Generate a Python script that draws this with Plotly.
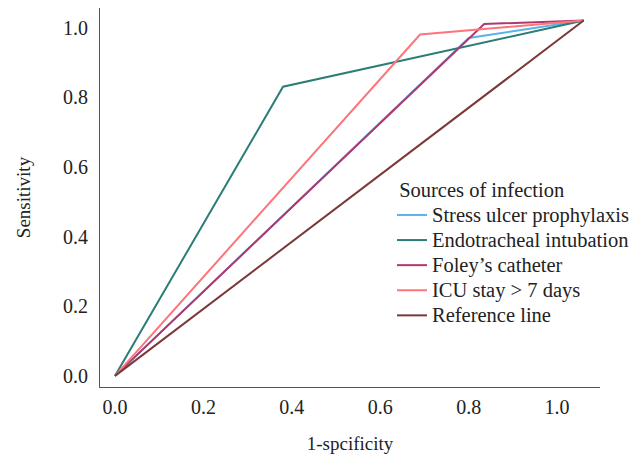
import plotly.graph_objects as go

series_names = ["Stress ulcer prophylaxis", "Endotracheal intubation", "Foley\u2019s catheter",
                "ICU stay > 7 days", "Reference line"]
stress_x = [0.0, 0.80, 1.06]
stress_y = [0.0, 0.97, 1.02]
endo_x = [0.0, 0.38, 1.06]
endo_y = [0.0, 0.83, 1.02]
foley_x = [0.0, 0.835, 1.06]
foley_y = [0.0, 1.01, 1.02]
icu_x = [0.0, 0.69, 1.06]
icu_y = [0.0, 0.98, 1.02]
ref_x = [0.0, 1.06]
ref_y = [0.0, 1.02]
tick_vals = [0.0, 0.2, 0.4, 0.6, 0.8, 1.0]
tick_text = ["0.0", "0.2", "0.4", "0.6", "0.8", "1.0"]

colors = ["#5ab2ea", "#2b7d77", "#b0386e", "#fd747a", "#7a3838"]
xs = [stress_x, endo_x, foley_x, icu_x, ref_x]
ys = [stress_y, endo_y, foley_y, icu_y, ref_y]

fig = go.Figure()
for name, x, y, c in zip(series_names, xs, ys, colors):
    fig.add_trace(go.Scatter(x=x, y=y, mode="lines",
                             name='<span style="font-size:20.5px">' + name + "</span>",
                             line=dict(color=c, width=2)))

font = "Liberation Serif"
fig.update_layout(
    width=632, height=448,
    margin=dict(l=92, r=40, t=0, b=69, autoexpand=False),
    paper_bgcolor="white", plot_bgcolor="white",
    font=dict(family=font, size=20, color="#222222"),
    showlegend=True,
    legend=dict(
        title=dict(text='<span style="font-size:20.5px">\u00a0Sources of infection</span>',
                   font=dict(family=font, size=25)),
        font=dict(family=font, size=17),
        x=0.584, y=0.586, xanchor="left", yanchor="top",
        bgcolor="rgba(0,0,0,0)", tracegroupgap=0, itemwidth=30,
    ),
    xaxis=dict(range=[-0.034, 1.097], tickvals=tick_vals, ticktext=tick_text,
               showgrid=False, zeroline=False, showline=True, linecolor="#555555",
               linewidth=1, ticks="", ticklabelstandoff=2, automargin=False,
               title=dict(text="1-spcificity", standoff=19, font=dict(size=19))),
    yaxis=dict(range=[-0.032, 1.056], tickvals=tick_vals, ticktext=tick_text,
               showgrid=False, zeroline=False, showline=True, linecolor="#555555",
               linewidth=1, ticks="", ticklabelstandoff=7, automargin=False,
               title=dict(text="Sensitivity", standoff=27, font=dict(size=19))),
)
fig.write_html("out.html")
